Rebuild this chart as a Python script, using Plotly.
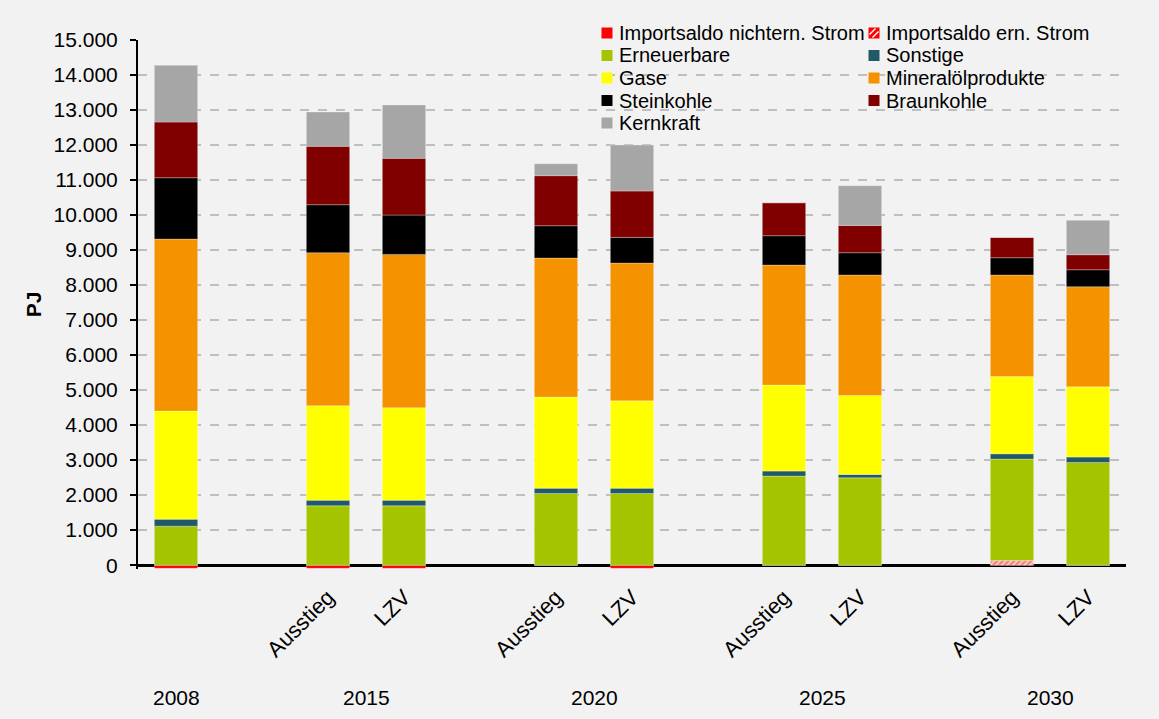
import plotly.graph_objects as go

# Slot positions on the x axis (empty slots separate the years)
slots = [0, 2, 3, 5, 6, 8, 9, 11, 12]
scenario_labels = ["", "Ausstieg", "LZV", "Ausstieg", "LZV", "Ausstieg", "LZV", "Ausstieg", "LZV"]
years = ["2008", "2015", "2020", "2025", "2030"]
year_centers = [0, 2.5, 5.5, 8.5, 11.5]

# Primary energy consumption by carrier, PJ
import_nichtern = [-90, -90, -90, 0, -90, 0, 0, 0, 0]
import_ern = [0, 0, 0, 0, 0, 0, 0, 130, 0]
erneuerbare = [1114, 1694, 1694, 2048, 2048, 2543, 2495, 2899, 2933]
sonstige = [200, 163, 163, 152, 152, 143, 95, 152, 153]
gase = [3086, 2695, 2638, 2600, 2495, 2457, 2258, 2209, 2009]
mineraloel = [4914, 4372, 4381, 3971, 3934, 3428, 3438, 2896, 2857]
steinkohle = [1752, 1371, 1124, 924, 733, 839, 638, 495, 486]
braunkohle = [1591, 1667, 1619, 1429, 1324, 942, 781, 581, 429]
kernkraft = [1623, 981, 1524, 342, 1314, 0, 1133, 0, 981]

y_ticks = list(range(0, 15001, 1000))

FONT = "Liberation Sans, Arial, sans-serif"
W, H = 1159, 719
M_L, M_R, M_T, M_B = 138, 33, 40, 150
PLOT_W = W - M_L - M_R
PLOT_H = H - M_T - M_B


def px_x(px):
    return (px - M_L) / PLOT_W


def px_y(px):
    return (H - M_B - px) / PLOT_H


series = [
    ("Importsaldo nichtern. Strom", import_nichtern, "#FF0000", None),
    ("Importsaldo ern. Strom", import_ern, "#FFFFFF", "/"),
    ("Erneuerbare", erneuerbare, "#A4C400", None),
    ("Sonstige", sonstige, "#215968", None),
    ("Gase", gase, "#FFFF00", None),
    ("Mineralölprodukte", mineraloel, "#F59200", None),
    ("Steinkohle", steinkohle, "#000000", None),
    ("Braunkohle", braunkohle, "#800000", None),
    ("Kernkraft", kernkraft, "#A6A6A6", None),
]

fig = go.Figure()
for name, vals, color, hatch in series:
    marker = dict(color=color, line=dict(width=0.8, color="rgba(255,255,255,0.35)"))
    if hatch:
        marker["pattern"] = dict(shape=hatch, fgcolor="#FF0000", bgcolor="#FFFFFF",
                                 size=4, solidity=0.75)
    fig.add_trace(go.Bar(x=slots, y=vals, name=name, marker=marker, showlegend=False))

# Two-column legend in the upper right of the plot area
shapes = []
annotations = []
col_x = [607, 874]
for i, (name, vals, color, hatch) in enumerate(series):
    col, row = i % 2, i // 2
    cx, cy = col_x[col], 33 + row * 22.5
    half = 5.5
    x0, x1 = px_x(cx - half), px_x(cx + half)
    y0, y1 = px_y(cy + half), px_y(cy - half)
    fill = "#FF0000" if hatch else color
    shapes.append(dict(type="rect", xref="paper", yref="paper", x0=x0, x1=x1, y0=y0, y1=y1,
                       fillcolor=fill, line=dict(width=0), layer="above"))
    if hatch:
        for off in (-3, 3):
            shapes.append(dict(type="line", xref="paper", yref="paper",
                               x0=px_x(cx - half + max(off, 0) + 1), y0=px_y(cy + half - max(-off, 0) - 1),
                               x1=px_x(cx + half + min(off, 0) - 1), y1=px_y(cy - half - min(-off, 0) + 1),
                               line=dict(color="#FFFFFF", width=1.5), layer="above"))
    annotations.append(dict(x=px_x(cx + 10), y=px_y(cy), xref="paper", yref="paper",
                            text=name, showarrow=False, xanchor="left", yanchor="middle",
                            font=dict(size=20, color="#000000", family=FONT)))

for yr, xc in zip(years, year_centers):
    annotations.append(dict(x=xc, y=px_y(698), xref="x", yref="paper", text=yr,
                            showarrow=False, font=dict(size=21, color="#000000", family=FONT),
                            xanchor="center", yanchor="middle"))

fig.update_layout(
    width=W, height=H,
    paper_bgcolor="#F2F2F2", plot_bgcolor="#F2F2F2",
    margin=dict(l=M_L, r=M_R, t=M_T, b=M_B),
    barmode="relative", bargap=0.43,
    separators=",.",
    showlegend=False,
    font=dict(family=FONT, size=20, color="#000000"),
    shapes=shapes,
    annotations=annotations,
    xaxis=dict(range=[-0.5, 12.5], tickvals=slots, ticktext=scenario_labels,
               tickangle=-45, showgrid=False, zeroline=False, showline=False,
               ticks="", ticklabelstandoff=10,
               tickfont=dict(size=22, family=FONT, color="#000000")),
    yaxis=dict(range=[-110, 15000], tickvals=y_ticks, tickformat=",d",
               showgrid=True, gridcolor="#BFBFBF", griddash="dash", gridwidth=1.5,
               zeroline=True, zerolinecolor="#000000", zerolinewidth=2.5,
               showline=True, linecolor="#000000", linewidth=2,
               ticks="outside", ticklen=6, tickcolor="#000000", tickwidth=1.5,
               ticklabelstandoff=8,
               tickfont=dict(size=21, family=FONT, color="#000000"),
               title=dict(text="<b>PJ</b>", font=dict(size=21, family=FONT), standoff=6)),
)

fig.write_html("out.html")
